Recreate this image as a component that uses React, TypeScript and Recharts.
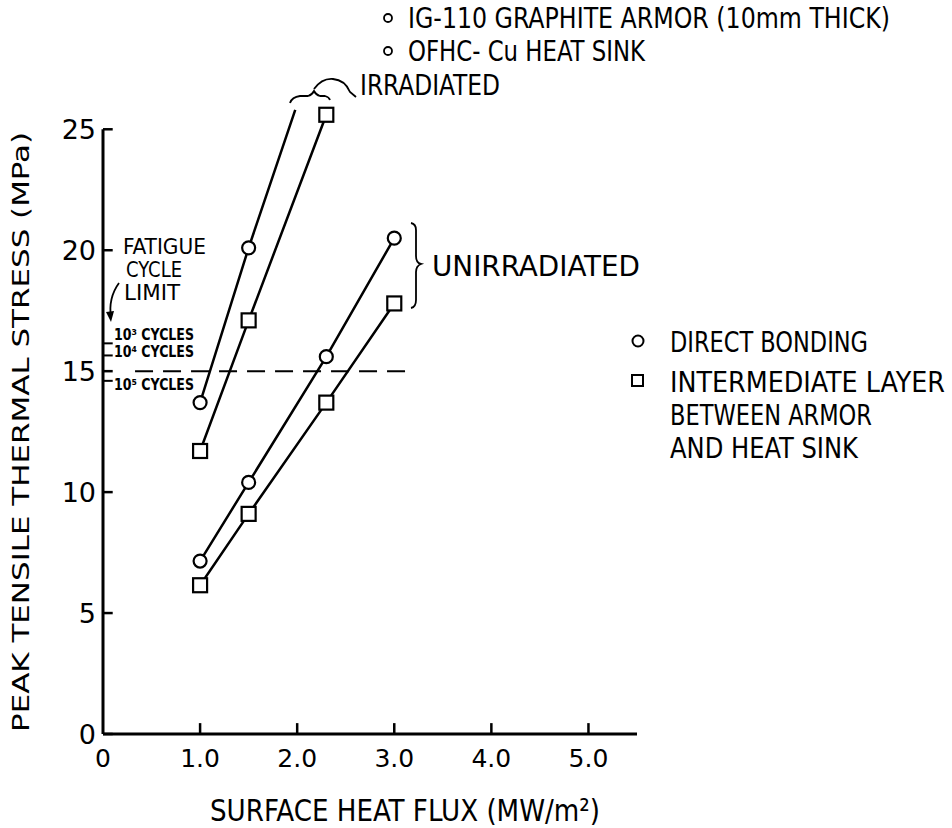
import { LineChart, Line, XAxis, YAxis, ReferenceLine } from "recharts";

// Surface heat flux (MW/m²) vs peak tensile thermal stress (MPa)
const FLUX_TICKS = [0, 1, 2, 3, 4, 5];
const STRESS_TICKS = [0, 5, 10, 15, 20, 25];
const FATIGUE_TICKS = [16.15, 15.65, 14.6];
const FATIGUE_LABELS = ["10³ CYCLES", "10⁴ CYCLES", "10⁵ CYCLES"];
const FATIGUE_LIMIT = 15;

const IRR_DIRECT_FLUX = [1.0, 1.5, 1.98];
const IRR_DIRECT_STRESS = [13.7, 20.1, 25.8];
const IRR_DIRECT_MARKED = [true, true, false]; // line runs on past the last symbol
const IRR_LAYER_FLUX = [1.0, 1.5, 2.3];
const IRR_LAYER_STRESS = [11.7, 17.1, 25.6];
const UNIRR_DIRECT_FLUX = [1.0, 1.5, 2.3, 3.0];
const UNIRR_DIRECT_STRESS = [7.15, 10.4, 15.6, 20.5];
const UNIRR_LAYER_FLUX = [1.0, 1.5, 2.3, 3.0];
const UNIRR_LAYER_STRESS = [6.15, 9.1, 13.7, 17.8];

const NARROW = "'Liberation Sans Narrow', 'DejaVu Sans Condensed', 'DejaVu Sans', sans-serif";
const TICK_FONT = "'DejaVu Sans', 'Liberation Sans', sans-serif";
const INK = "#000";

type Row = { x: number; y: number; mark: boolean };

function rows(xs: number[], ys: number[], marked?: boolean[]): Row[] {
  return xs.map((x, i) => ({ x, y: ys[i], mark: marked ? marked[i] : true }));
}

const circleDot = (p: any) =>
  p.payload.mark ? (
    <circle key={`c-${p.index}`} cx={p.cx} cy={p.cy} r={6.5} fill="#fff" stroke={INK} strokeWidth={2.2} />
  ) : (
    <g key={`c-${p.index}`} />
  );

const squareDot = (p: any) => (
  <rect key={`s-${p.index}`} x={p.cx - 7} y={p.cy - 7} width={14} height={14} fill="#fff" stroke={INK} strokeWidth={2.2} />
);

// condensed lettering: glyphs squeezed into a fixed run length
function Txt({ x, y, len, size = 24, children, weight }: any) {
  return (
    <text x={x} y={y} fontSize={size} fontFamily={NARROW} fontWeight={weight} textLength={len} lengthAdjust="spacingAndGlyphs" fill={INK}>
      {children}
    </text>
  );
}

function Overlay() {
  const cycleRows = [340, 357, 390];
  return (
    <svg width={952} height={828} style={{ position: "absolute", left: 0, top: 0, pointerEvents: "none" }}>
      {/* material notes */}
      <circle cx={388} cy={18} r={4} fill="none" stroke={INK} strokeWidth={1.8} />
      <Txt x={408} y={28} len={482} size={28}>IG-110 GRAPHITE ARMOR (10mm THICK)</Txt>
      <circle cx={388} cy={51} r={4} fill="none" stroke={INK} strokeWidth={1.8} />
      <Txt x={408} y={61} len={237} size={28}>OFHC- Cu HEAT SINK</Txt>

      {/* irradiated brace */}
      <path d="M290 103 Q292 97 300 96 L308 96 Q312 95 314 91 Q316 95 320 96 L325 96 Q329 97 330 100" fill="none" stroke={INK} strokeWidth={1.8} />
      <path d="M314 89 Q322 78 333 79 Q345 80 350 92 L356 97" fill="none" stroke={INK} strokeWidth={1.8} />
      <Txt x={360} y={95} len={140} size={28}>IRRADIATED</Txt>

      {/* unirradiated brace */}
      <path d="M411 223 Q416 224 416 230 L416 256 Q416 263 421 264 Q416 266 416 272 L416 300 Q416 307 411 308" fill="none" stroke={INK} strokeWidth={1.8} />
      <Txt x={432} y={276} len={208} size={28}>UNIRRADIATED</Txt>

      {/* fatigue limits */}
      <Txt x={123} y={254} len={83} size={22}>FATIGUE</Txt>
      <Txt x={126} y={277} len={56} size={22}>CYCLE</Txt>
      <Txt x={124} y={300} len={56} size={22}>LIMIT</Txt>
      <path d="M119 283 Q108 298 111 318" fill="none" stroke={INK} strokeWidth={1.8} />
      <path d="M106 312 L111 322 L114 311 Z" fill={INK} />
      {FATIGUE_LABELS.map((t, i) => (
        <Txt key={t} x={114} y={cycleRows[i]} len={80} size={15} weight="bold">
          {t}
        </Txt>
      ))}

      {/* legend */}
      <circle cx={638} cy={341} r={5.5} fill="none" stroke={INK} strokeWidth={2} />
      <Txt x={670} y={352} len={198} size={28}>DIRECT  BONDING</Txt>
      <rect x={632} y={375} width={11} height={11} fill="none" stroke={INK} strokeWidth={2} />
      <Txt x={670} y={392} len={275} size={28}>INTERMEDIATE LAYER</Txt>
      <Txt x={670} y={425} len={202} size={28}>BETWEEN ARMOR</Txt>
      <Txt x={670} y={458} len={188} size={28}>AND HEAT SINK</Txt>

      {/* axis titles */}
      <Txt x={210} y={821} len={390} size={31}>SURFACE  HEAT  FLUX  (MW/m²)</Txt>
      <text
        x={29}
        y={432}
        transform="rotate(-90 29 432)"
        fontSize={23}
        fontFamily={NARROW}
        fill={INK}
        textAnchor="middle"
        textLength={600}
        lengthAdjust="spacingAndGlyphs"
      >
        PEAK TENSILE THERMAL STRESS (MPa)
      </text>
    </svg>
  );
}

export default function App() {
  const seg = (x1: number, y1: number, x2: number, y2: number) => [
    { x: x1, y: y1 },
    { x: x2, y: y2 },
  ];
  return (
    <div style={{ position: "fixed", left: 0, top: 0, width: 952, height: 828, background: "#fff" }}>
      <LineChart width={952} height={828} margin={{ top: 93, right: 315, bottom: 0, left: 43 }}>
        <XAxis
          type="number"
          dataKey="x"
          domain={[0, 5.5]}
          ticks={FLUX_TICKS}
          tickFormatter={(v: number) => (v === 0 ? "0" : v.toFixed(1))}
          height={94}
          tickLine={false}
          tickSize={6}
          tickMargin={9}
          axisLine={{ stroke: INK, strokeWidth: 3 }}
          tick={{ fill: INK, fontSize: 25, fontFamily: TICK_FONT }}
        />
        <YAxis
          type="number"
          dataKey="y"
          domain={[0, 26.5]}
          ticks={STRESS_TICKS}
          width={60}
          tickLine={false}
          tickSize={6}
          tickMargin={1}
          axisLine={false}
          tick={{ fill: INK, fontSize: 27, fontFamily: TICK_FONT }}
        />
        <ReferenceLine segment={seg(0, 0, 0, 25)} stroke={INK} strokeWidth={3} />
        {STRESS_TICKS.map((v) => (
          <ReferenceLine key={`yt${v}`} segment={seg(0, v, 0.1, v)} stroke={INK} strokeWidth={2.5} />
        ))}
        {FATIGUE_TICKS.map((v) => (
          <ReferenceLine key={`ft${v}`} segment={seg(0, v, 0.1, v)} stroke={INK} strokeWidth={2} />
        ))}
        {FLUX_TICKS.slice(1).map((v) => (
          <ReferenceLine key={`xt${v}`} segment={seg(v, 0, v, 0.45)} stroke={INK} strokeWidth={2.5} />
        ))}
        <ReferenceLine segment={seg(0.33, FATIGUE_LIMIT, 3.2, FATIGUE_LIMIT)} stroke={INK} strokeWidth={2} strokeDasharray="18 10" />

        <Line data={rows(IRR_DIRECT_FLUX, IRR_DIRECT_STRESS, IRR_DIRECT_MARKED)} dataKey="y" stroke={INK} strokeWidth={2.5} dot={circleDot} isAnimationActive={false} />
        <Line data={rows(IRR_LAYER_FLUX, IRR_LAYER_STRESS)} dataKey="y" stroke={INK} strokeWidth={2.5} dot={squareDot} isAnimationActive={false} />
        <Line data={rows(UNIRR_DIRECT_FLUX, UNIRR_DIRECT_STRESS)} dataKey="y" stroke={INK} strokeWidth={2.5} dot={circleDot} isAnimationActive={false} />
        <Line data={rows(UNIRR_LAYER_FLUX, UNIRR_LAYER_STRESS)} dataKey="y" stroke={INK} strokeWidth={2.5} dot={squareDot} isAnimationActive={false} />
      </LineChart>
      <Overlay />
    </div>
  );
}
